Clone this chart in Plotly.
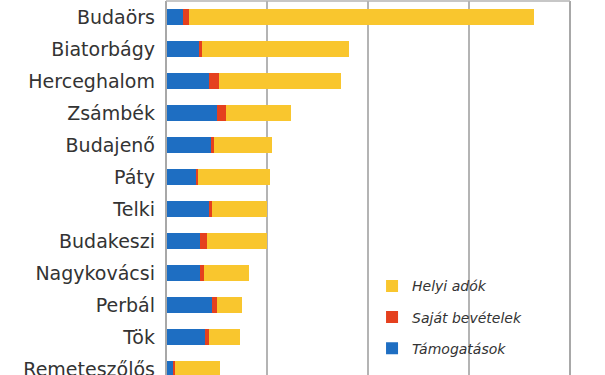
import plotly.graph_objects as go

towns = ["Budaörs", "Biatorbágy", "Herceghalom", "Zsámbék", "Budajenő", "Páty",
         "Telki", "Budakeszi", "Nagykovácsi", "Perbál", "Tök", "Remeteszőlős"]
tamogatasok = [16.5, 32.4, 42.5, 50.3, 44.1, 30.6, 42.2, 34.0, 34.0, 45.4, 38.5, 7.0]
sajat = [6.4, 3.3, 9.8, 9.5, 3.3, 1.4, 3.3, 6.4, 3.3, 5.0, 3.7, 1.5]
helyi = [341.3, 145.3, 120.6, 64.1, 57.8, 70.5, 54.6, 59.2, 44.8, 25.1, 30.6, 44.5]

x_gridvals = [100, 200, 300]

blue = "#1E6EC2"
red = "#E5401E"
yellow = "#F9C62E"

fig = go.Figure()
fig.add_trace(go.Bar(y=towns, x=tamogatasok, orientation="h", name="Támogatások",
                     marker=dict(color=blue, line=dict(width=0)), width=0.5,
                     legendgroup="a", legendrank=3))
fig.add_trace(go.Bar(y=towns, x=sajat, orientation="h", name="Saját bevételek",
                     marker=dict(color=red, line=dict(width=0)), width=0.5,
                     legendgroup="b", legendrank=2))
fig.add_trace(go.Bar(y=towns, x=helyi, orientation="h", name="Helyi adók",
                     marker=dict(color=yellow, line=dict(width=0)), width=0.5,
                     legendgroup="c", legendrank=1))

span = 374 / 32.0

fig.update_layout(
    width=605, height=375,
    margin=dict(l=166, r=35, t=1, b=0),
    barmode="stack",
    plot_bgcolor="white", paper_bgcolor="white",
    font=dict(family="DejaVu Sans", color="#333333"),
    xaxis=dict(range=[0, 400], tickvals=x_gridvals, showticklabels=False,
               showgrid=True, gridcolor="#B4B4B4", gridwidth=2,
               zeroline=False, showline=False, ticks="", automargin=False),
    yaxis=dict(type="category", categoryorder="array", categoryarray=towns,
               range=[-0.5 + span, -0.5], showgrid=False, zeroline=False,
               showline=False, ticks="", ticklabelstandoff=10, automargin=False,
               tickfont=dict(size=19, color="#333333")),
    legend=dict(x=0.51, y=0.280, xanchor="left", yanchor="top",
                traceorder="grouped", tracegroupgap=10,
                font=dict(size=14, style="italic", color="#333333"),
                bgcolor="rgba(0,0,0,0)"),
    shapes=[
        dict(type="line", xref="paper", yref="paper", x0=0, x1=0, y0=0, y1=1,
             line=dict(color="#A8A8A8", width=2)),
        dict(type="line", xref="paper", yref="paper", x0=1, x1=1, y0=0, y1=1,
             line=dict(color="#A8A8A8", width=2)),
        dict(type="line", xref="paper", yref="paper", x0=0, x1=1, y0=1, y1=1,
             line=dict(color="#B4B4B4", width=1.5)),
    ],
)

fig.write_html("out.html", config={"displayModeBar": False},
               post_script="document.body.style.margin='0';document.body.style.overflow='hidden';")
